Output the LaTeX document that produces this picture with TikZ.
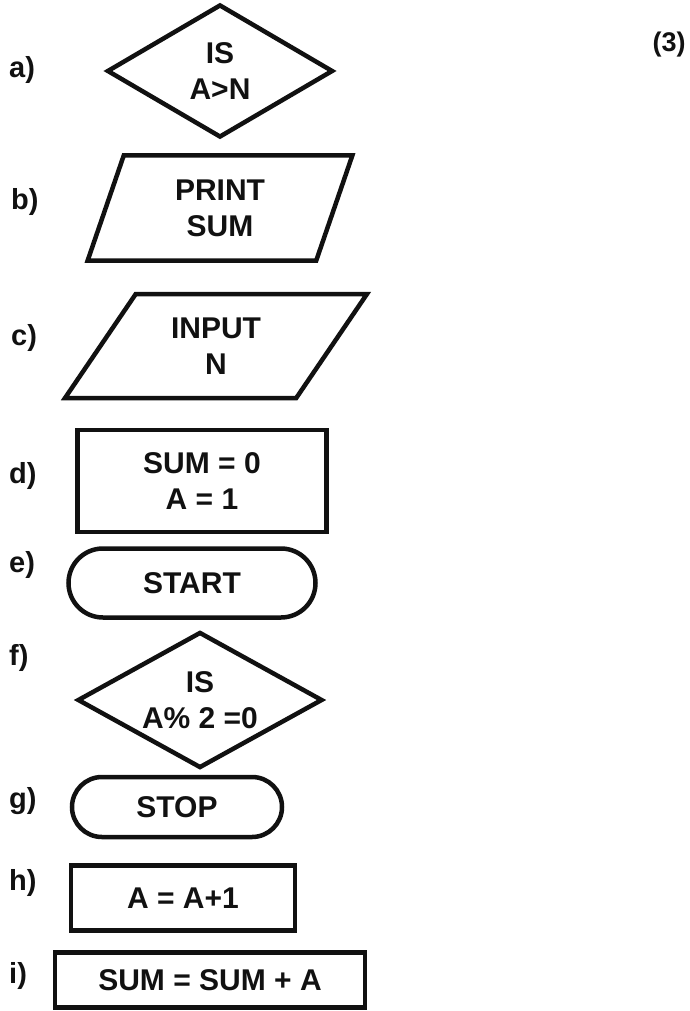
\documentclass[tikz,border=0pt]{standalone}
\usepackage{fontspec}
\setmainfont{Liberation Sans}
\usetikzlibrary{shapes.geometric,shapes.misc}
\definecolor{Ink}{HTML}{111111}

\begin{document}
\begin{tikzpicture}[x=1pt,y=-1pt, s/.style={draw=Ink,line width=4.5pt,inner sep=0pt,align=center,text=Ink,font=\fontsize{30}{36}\selectfont\bfseries},
  lbl/.style={anchor=west,inner sep=0pt,text=Ink,font=\fontsize{29}{30}\selectfont\bfseries},
  dec/.style={s,diamond,aspect=1.8}, io/.style={s,trapezium,trapezium stretches=true}, term/.style={s,rounded rectangle}]
    \useasboundingbox (0,0) rectangle (689,1011);
    \node[lbl] (la) at (9,70) {a)}; \node[lbl] (lb) at (11,202) {b)}; \node[lbl] (lc) at (11,338) {c)};
    \node[lbl] (ld) at (9,476) {d)}; \node[lbl] (le) at (9,565) {e)}; \node[lbl] (lf) at (9,658) {f)};
    \node[lbl] (lg) at (9,801) {g)}; \node[lbl] (lh) at (9,883) {h)}; \node[lbl] (li) at (9,976) {i)};
    \node[lbl,anchor=center,font=\fontsize{27}{28}\selectfont\bfseries] (mk) at (669,45) {(3)};
    % shapes
    \node[dec,minimum width=226pt,minimum height=133pt] (a) at (220,71) {IS\\A>N};
    \node[io,trapezium left angle=73.5,trapezium right angle=106.5,minimum width=265pt,minimum height=105pt] (b) at (220,208) {PRINT\\SUM};
    \node[io,trapezium left angle=55,trapezium right angle=125,minimum width=302pt,minimum height=104pt] (c) at (216,346) {INPUT\\N};
    \node[s,rectangle,minimum width=249pt,minimum height=102pt] (d) at (202,481) {SUM = 0\\A = 1};
    \node[term,minimum width=247pt,minimum height=69pt] (e) at (192,583) {START};
    \node[dec,minimum width=245pt,minimum height=136pt] (f) at (200,700) {IS\\A\% 2 =0};
    \node[term,minimum width=210pt,minimum height=60pt] (g) at (177,807) {STOP};
    \node[s,rectangle,minimum width=224pt,minimum height=65pt] (h) at (183,898) {A = A+1};
    \node[s,rectangle,minimum width=310pt,minimum height=55pt] (i) at (210,980) {SUM = SUM + A};
  \end{tikzpicture}
\end{document}
